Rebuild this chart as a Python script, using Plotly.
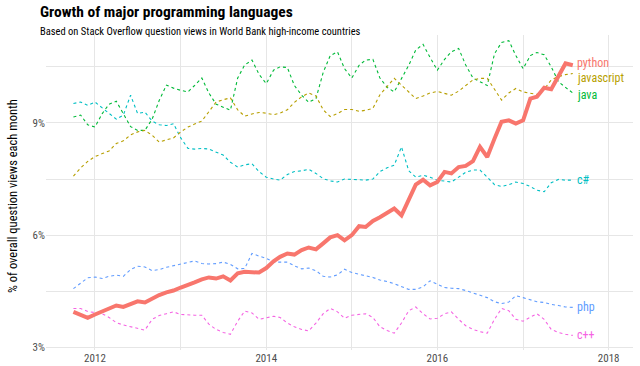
import pandas as pd
import plotly.graph_objects as go

# ---- data (monthly, Oct 2011 .. Aug 2017) ----
months = pd.date_range("2011-10-01", periods=71, freq="MS")

python = [3.95, 3.87, 3.79, 3.88, 3.96, 4.02, 4.12, 4.08, 4.15, 4.23,
          4.20, 4.30, 4.40, 4.47, 4.52, 4.60, 4.66, 4.74, 4.82, 4.87,
          4.84, 4.90, 4.79, 4.98, 5.02, 5.01, 5.00, 5.12, 5.30, 5.42,
          5.51, 5.48, 5.60, 5.67, 5.62, 5.78, 5.94, 6.00, 5.86, 6.00,
          6.24, 6.22, 6.38, 6.48, 6.60, 6.71, 6.53, 6.95, 7.35, 7.48,
          7.33, 7.42, 7.69, 7.65, 7.82, 7.85, 7.98, 8.36, 8.09, 8.58,
          9.03, 9.07, 8.98, 9.07, 9.65, 9.70, 9.94, 9.90, 10.28, 10.59,
          10.54]

javascript = [7.58, 7.80, 7.97, 8.10, 8.18, 8.25, 8.45, 8.52, 8.68, 8.76,
              8.80, 8.67, 8.49, 8.54, 8.60, 8.76, 8.89, 8.97, 9.05, 9.30,
              9.56, 9.62, 9.67, 9.35, 9.18, 9.24, 9.28, 9.26, 9.22, 9.26,
              9.35, 9.55, 9.70, 9.80, 9.72, 9.35, 9.17, 9.25, 9.36, 9.36,
              9.31, 9.34, 9.39, 9.75, 9.98, 10.19, 10.01, 9.83, 9.65, 9.72,
              9.80, 9.84, 9.78, 9.74, 9.85, 10.01, 10.15, 10.19, 10.19, 9.90,
              9.61, 9.80, 9.92, 9.83, 9.79, 9.76, 9.90, 10.15, 10.24, 10.29,
              10.32]

java = [9.16, 9.21, 8.95, 8.89, 9.25, 9.50, 9.58, 9.25, 8.90, 8.80,
        8.80, 9.10, 9.60, 10.01, 9.93, 9.87, 9.83, 10.00, 10.20, 9.80,
        9.50, 9.42, 9.34, 10.20, 10.55, 10.68, 10.30, 10.05, 10.41, 10.50,
        10.48, 10.00, 9.74, 9.55, 9.65, 10.35, 10.80, 10.90, 10.45, 10.20,
        10.54, 10.68, 10.70, 10.20, 9.95, 9.83, 10.20, 10.54, 10.95, 11.10,
        10.75, 10.41, 10.70, 10.90, 10.99, 10.55, 10.20, 10.10, 10.00, 10.85,
        11.15, 11.20, 10.80, 10.45, 10.80, 10.88, 10.82, 10.50, 10.10, 9.95,
        9.80]

csharp = [9.52, 9.56, 9.47, 9.56, 9.40, 9.25, 9.10, 9.21, 9.74, 9.25,
          9.29, 9.05, 8.95, 8.93, 8.98, 8.60, 8.32, 8.30, 8.32, 8.30,
          8.22, 8.14, 7.95, 7.82, 7.88, 7.91, 7.70, 7.55, 7.50, 7.47,
          7.62, 7.70, 7.72, 7.76, 7.65, 7.51, 7.45, 7.42, 7.50, 7.50,
          7.48, 7.47, 7.50, 7.70, 7.80, 7.87, 8.36, 7.72, 7.55, 7.60,
          7.55, 7.47, 7.45, 7.42, 7.55, 7.68, 7.74, 7.74, 7.55, 7.35,
          7.30, 7.35, 7.42, 7.38, 7.30, 7.20, 7.16, 7.40, 7.49, 7.47,
          7.47]

php = [4.57, 4.72, 4.86, 4.88, 4.84, 4.90, 4.93, 4.90, 5.08, 5.17,
       5.15, 5.05, 5.08, 5.14, 5.18, 5.24, 5.28, 5.31, 5.24, 5.23,
       5.24, 5.28, 5.22, 5.10, 5.11, 5.51, 5.44, 5.38, 5.28, 5.28,
       5.28, 5.18, 5.10, 5.12, 5.05, 4.90, 4.88, 4.94, 5.09, 5.00,
       4.95, 4.90, 4.87, 4.80, 4.76, 4.70, 4.62, 4.55, 4.55, 4.62,
       4.78, 4.70, 4.60, 4.58, 4.57, 4.52, 4.46, 4.40, 4.33, 4.22,
       4.17, 4.21, 4.38, 4.33, 4.27, 4.22, 4.20, 4.15, 4.12, 4.08,
       4.07]

cpp = [4.04, 4.04, 3.96, 3.92, 3.90, 3.80, 3.66, 3.60, 3.55, 3.50,
       3.46, 3.75, 3.85, 3.90, 3.95, 3.88, 3.86, 3.86, 3.86, 3.62,
       3.48, 3.40, 3.35, 3.70, 3.97, 3.92, 3.75, 3.78, 3.83, 3.80,
       3.65, 3.55, 3.48, 3.44, 3.65, 3.90, 4.04, 3.95, 3.78, 3.86,
       3.88, 3.90, 3.80, 3.55, 3.45, 3.38, 3.65, 3.98, 4.08, 3.90,
       3.76, 3.78, 3.90, 3.95, 3.75, 3.58, 3.48, 3.42, 3.38, 3.75,
       4.04, 3.98, 3.75, 3.70, 3.81, 3.90, 3.75, 3.48, 3.40, 3.35,
       3.32]

series_names = ["c++", "php", "c#", "java", "javascript", "python"]
series_values = [cpp, php, csharp, java, javascript, python]
series_colors = ["#F564E3", "#619CFF", "#00BFC4", "#00BA38", "#B79F00", "#F8766D"]
label_yshift = [0, 0, 0, -2, -4, 2]

y_tickvals = [3, 6, 9]
y_ticktext = ["3%", "6%", "9%"]
y_minor = [4.5, 7.5, 10.5]
x_tickvals = ["2012-01-01", "2014-01-01", "2016-01-01", "2018-01-01"]
x_ticktext = ["2012", "2014", "2016", "2018"]
x_minor = ["2013-01-01", "2015-01-01", "2017-01-01"]

FONT = "Roboto Condensed, Liberation Sans Narrow, DejaVu Sans Condensed, Roboto, sans-serif"
L, R, T, B = 46, 7, 35, 16
W, H = 640, 366
PW, PH = W - L - R, H - T - B

fig = go.Figure()
for name, vals, col, ys in zip(series_names, series_values, series_colors, label_yshift):
    if name == "python":
        line = dict(color=col, width=4)
    else:
        line = dict(color=col, width=1.1, dash="3px,3px")
    fig.add_trace(go.Scatter(x=months, y=vals, mode="lines", line=line,
                             name=name, showlegend=False, hoverinfo="skip"))
    fig.add_annotation(x=months[-1], y=vals[-1], text=name, showarrow=False,
                       xanchor="left", yanchor="middle", xshift=2, yshift=ys,
                       font=dict(family=FONT, size=12, color=col))

grid = "#E6E6E6"
fig.update_layout(
    width=W, height=H,
    margin=dict(l=L, r=R, t=T, b=B),
    paper_bgcolor="white", plot_bgcolor="white",
    font=dict(family=FONT, color="#4D4D4D"),
    xaxis=dict(range=["2011-06-06", "2018-04-15"], tickvals=x_tickvals,
               ticktext=x_ticktext, showgrid=True, gridcolor=grid, gridwidth=1,
               zeroline=False, showline=False, ticks="",
               tickfont=dict(size=11, color="#4D4D4D"),
               minor=dict(tickvals=x_minor, showgrid=True, gridcolor=grid, gridwidth=0.6),
               automargin=False),
    yaxis=dict(range=[2.93, 11.35], tickvals=y_tickvals, ticktext=y_ticktext,
               showgrid=True, gridcolor=grid, gridwidth=1, zeroline=False,
               showline=False, ticks="", tickfont=dict(size=11, color="#4D4D4D"),
               minor=dict(tickvals=y_minor, showgrid=True, gridcolor=grid, gridwidth=0.6),
               automargin=False),
)

# title, subtitle, y-axis title
fig.add_annotation(xref="paper", yref="paper", x=(38 - L) / PW, y=(H - B - 12) / PH,
                   text="<b>Growth of major programming languages</b>", showarrow=False,
                   xanchor="left", yanchor="middle",
                   font=dict(family=FONT, size=15.5, color="black"))
fig.add_annotation(xref="paper", yref="paper", x=(38 - L) / PW, y=(H - B - 31) / PH,
                   text="Based on Stack Overflow question views in World Bank high-income countries",
                   showarrow=False, xanchor="left", yanchor="middle",
                   font=dict(family=FONT, size=10.5, color="black"))
fig.add_annotation(xref="paper", yref="paper", x=(12 - L) / PW, y=(H - B - 196) / PH,
                   text="% of overall question views each month", showarrow=False,
                   textangle=-90, xanchor="center", yanchor="middle",
                   font=dict(family=FONT, size=12.5, color="black"))

fig.write_html("out.html", config={"displayModeBar": False},
               post_script="document.body.style.margin='0';document.body.style.overflow='hidden';")
